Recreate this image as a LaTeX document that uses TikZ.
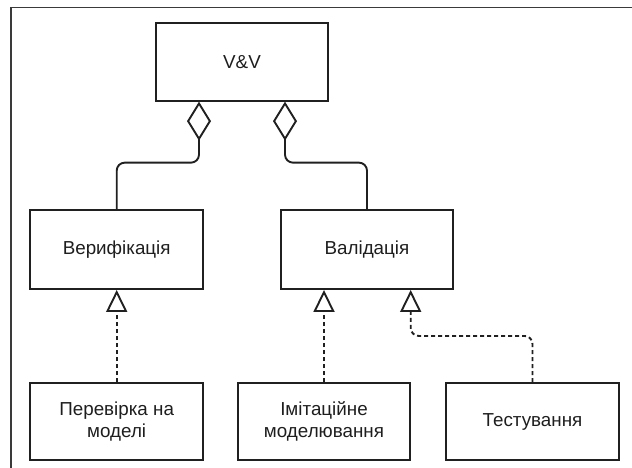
\documentclass[tikz,border=0pt]{standalone}
\usepackage{fontspec}
\setmainfont{Liberation Sans}
\usetikzlibrary{arrows.meta,calc}
\definecolor{ln}{HTML}{202020}
\definecolor{txt}{HTML}{1E1E1E}
\definecolor{frm}{HTML}{3A3A3A}
\tikzset{
  box/.style={draw=ln, line width=1.9pt, minimum width=172.6pt, inner sep=0pt,
    align=center, text=txt, font=\fontsize{18.8}{21.8}\selectfont},
  agg/.style={draw=ln, line width=1.9pt, rounded corners=8pt,
    -{Diamond[open,length=39pt,width=24pt]}},
  gen/.style={draw=ln, line width=1.9pt, rounded corners=8pt, dash pattern=on 4pt off 3pt,
    -{Triangle[open,length=22pt,width=21pt]}}
}
\begin{document}
\begin{tikzpicture}[x=1pt,y=-1pt]
\useasboundingbox (0,0) rectangle (632,468);
\draw[frm, line width=1.8pt] (11,470) -- (11,7.5) -- (634,7.5);
\node[box, minimum height=78pt] (vv) at (242,61.7) {V\&V};
\node[box, minimum height=79pt] (ver) at (116.7,249.5) {Верифікація};
\node[box, minimum height=79pt] (val) at (367,249.5) {Валідація};
\node[box, minimum height=77pt] (per) at (116.7,421.5) {Перевірка на\\моделі};
\node[box, minimum height=77pt] (imi) at (324,421.5) {Імітаційне\\моделювання};
\node[box, minimum height=77pt] (tes) at (532.5,421.5) {Тестування};
\coordinate (d1) at ($(vv.south)+(-43,0)$);
\coordinate (d2) at ($(vv.south)+(43,0)$);
\coordinate (t2) at ($(val.south)+(-43,0)$);
\coordinate (t3) at ($(val.south)+(43.7,0)$);
\draw[agg] (ver.north) |- ($(d1)+(0,61)$) -- (d1);
\draw[agg] (val.north) |- ($(d2)+(0,61)$) -- (d2);
\draw[gen] (per.north) -- (ver.south);
\draw[gen] (imi.north) -- (t2);
\draw[gen] (tes.north) |- ($(t3)+(0,46)$) -- (t3);
\end{tikzpicture}
\end{document}
